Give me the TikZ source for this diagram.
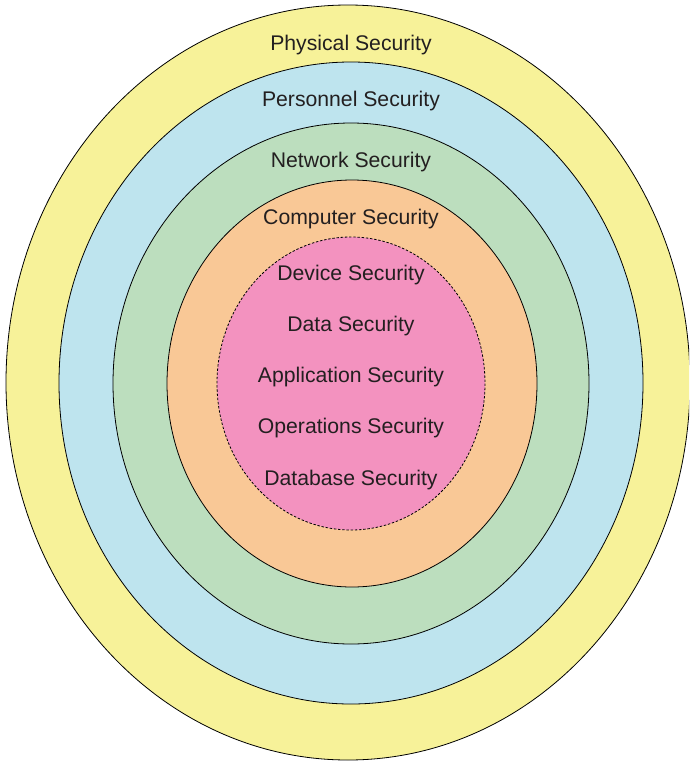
\documentclass[tikz,border=0pt]{standalone}
\usepackage{fontspec}
\setmainfont{Liberation Sans}
\definecolor{physfill}{HTML}{F7F299}
\definecolor{persfill}{HTML}{BEE4EE}
\definecolor{netfill}{HTML}{BCDEBE}
\definecolor{compfill}{HTML}{F9C896}
\definecolor{corefill}{HTML}{F392BF}
\definecolor{labeltext}{HTML}{231F20}
\tikzset{
  ring/.style={draw=black, line width=0.8pt},
  corering/.style={draw=black, line width=0.8pt, dash pattern=on 2.4pt off 1.8pt},
  layerlabel/.style={font=\fontsize{21.2}{25}\selectfont, text=labeltext, inner sep=0pt, anchor=center}
}
\begin{document}
\begin{tikzpicture}[x=1pt,y=-1pt]
  \useasboundingbox (0,0) rectangle (689,763);
  \begin{scope}
    \clip (0,0) rectangle (689,763);
    % nested security layers, outermost first
    \filldraw[ring, fill=physfill] (348,382.5) ellipse [x radius=342, y radius=377.5];
    \filldraw[ring, fill=persfill] (351,383) ellipse [x radius=292, y radius=321];
    \filldraw[ring, fill=netfill] (351,383.5) ellipse [x radius=238, y radius=260.5];
    \filldraw[ring, fill=compfill] (352,383.5) ellipse [x radius=185, y radius=203.5];
    \filldraw[corering, fill=corefill] (351,383.5) ellipse [x radius=134, y radius=146.5];
  \end{scope}
  % layer names
  \node[layerlabel] (phys) at (351,45) {Physical Security};
  \node[layerlabel] (pers) at (351,101) {Personnel Security};
  \node[layerlabel] (net) at (351,162) {Network Security};
  \node[layerlabel] (comp) at (351,219) {Computer Security};
  \node[layerlabel] (dev) at (351,275) {Device Security};
  \node[layerlabel] (data) at (351,326) {Data Security};
  \node[layerlabel] (app) at (351,377) {Application Security};
  \node[layerlabel] (ops) at (351,428) {Operations Security};
  \node[layerlabel] (db) at (351,480) {Database Security};
\end{tikzpicture}
\end{document}
